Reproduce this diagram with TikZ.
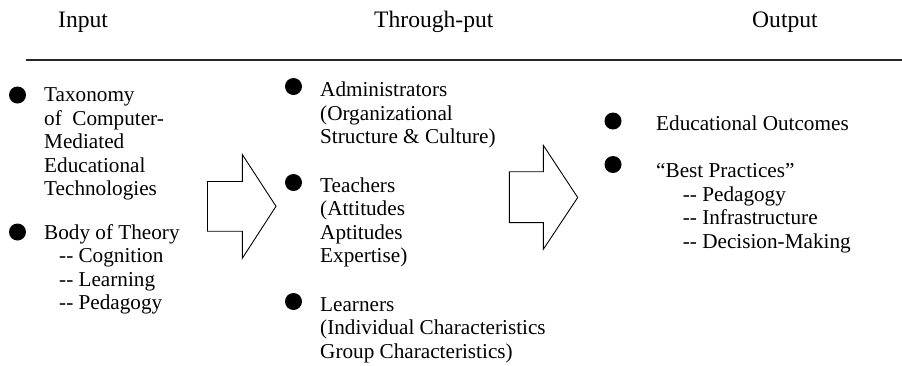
\documentclass[tikz,border=0pt]{standalone}
\usepackage{fontspec}
\setmainfont{Liberation Serif}
\newcommand\dsh{-\kern0pt-}
\begin{document}
\begin{tikzpicture}[x=1pt,y=-1pt,
  % multi-line text nodes are placed by the baseline of their last line
  txt/.style={anchor=base west,inner sep=0pt,align=left,
    font=\fontsize{21.2}{23.5}\selectfont},
  ttl/.style={anchor=base west,inner sep=0pt,
    font=\fontsize{23.6}{26}\selectfont},
  bul/.style={circle,fill=black,inner sep=0pt,minimum size=17pt},
  blockarrow/.style={draw=black,line width=0.9pt,line join=miter}]
\useasboundingbox (0,0) rectangle (902,365);

% column headings and rule
\node[ttl] (hin)  at (58,27.5)  {Input};
\node[ttl] (hthr) at (374,27.5) {Through-put};
\node[ttl] (hout) at (752,27.5) {Output};
\draw[line width=1.1pt,black!85] (26,60) -- (902,60);

% input column
\node[bul] (bi1) at (17.5,95) {};
\node[txt] (ti1) at (44,195.7) {Taxonomy\\of \ Computer-\\Mediated\\Educational\\Technologies};
\node[bul] (bi2) at (17.5,232) {};
\node[txt] (ti2) at (44,309.8) {Body of Theory\\\hspace*{15pt}\dsh{} Cognition\\\hspace*{15pt}\dsh{} Learning\\\hspace*{15pt}\dsh{} Pedagogy};

% through-put column
\node[bul] (bt1) at (293.5,86.5) {};
\node[txt] (tt1) at (320,143.7) {Administrators\\(Organizational\\Structure \& Culture)};
\node[bul] (bt2) at (293.5,182.5) {};
\node[txt] (tt2) at (320,262.8) {Teachers\\(Attitudes\\Aptitudes\\Expertise)};
\node[bul] (bt3) at (293.5,301.5) {};
\node[txt] (tt3) at (320,358) {Learners\\(Individual Characteristics\\Group Characteristics)};

% output column
\node[bul] (bo1) at (613,121) {};
\node[txt] (to1) at (656,130) {Educational Outcomes};
\node[bul] (bo2) at (613,164.5) {};
\node[txt] (to2) at (656,248.2) {“Best Practices”\\\hspace*{26.7pt}\dsh{} Pedagogy\\\hspace*{26.7pt}\dsh{} Infrastructure\\\hspace*{26.7pt}\dsh{} Decision-Making};

% block arrows between columns
\draw[blockarrow] (207.5,181.5) -- (242.3,181.5) -- (242.3,154.5) -- (276,206.3)
  -- (242.3,258.3) -- (242.3,231.2) -- (207.5,231.2) -- cycle;
\draw[blockarrow] (509.3,171.7) -- (543.3,171.7) -- (543.3,145.3) -- (577.7,197.5)
  -- (543.3,249.3) -- (543.3,222.6) -- (509.3,222.6) -- cycle;
\end{tikzpicture}
\end{document}
